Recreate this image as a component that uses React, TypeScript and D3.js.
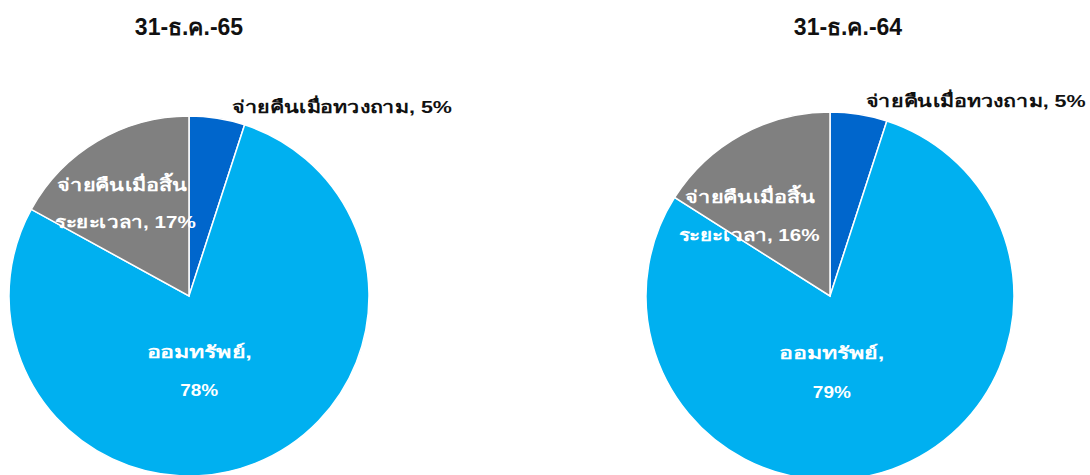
import * as d3 from "d3";
import { useEffect, useRef } from "react";

const categories = ["จ่ายคืนเมื่อทวงถาม", "ออมทรัพย์", "จ่ายคืนเมื่อสิ้นระยะเวลา"];
const titles = ["31-ธ.ค.-65", "31-ธ.ค.-64"];
const values65 = [5, 78, 17];
const values64 = [5, 79, 16];
const colors = ["#0066CC", "#00B0F0", "#808080"];

const width = 1090;
const height = 475;
const font = "Arial, 'Liberation Sans', Tahoma, sans-serif";

// label nudges per chart (excel "best fit" placement)
const layout65 = { cx: 189, cy: 296, r: 180, titleX: 189, outer: [12, 13], sav: [-13, 3, 41], term: [-10, -9, -7, 28] };
const layout64 = { cx: 830, cy: 296, r: 184, titleX: 848, outer: [4, 11], sav: [-20, 2, 41], term: [-25, 7, -26, 45] };

function drawPie(svg: any, values: number[], title: string, L: any) {
    const radius = L.r;
    const g = svg.append("g").attr("transform", "translate(" + L.cx + "," + L.cy + ")");
    const pie = d3.pie<number>().sort(null).value((d) => d);
    const arcs = pie(values);
    const arc = d3.arc<d3.PieArcDatum<number>>().innerRadius(0).outerRadius(radius);

    g.selectAll("path")
        .data(arcs)
        .enter()
        .append("path")
        .attr("d", arc)
        .attr("fill", (d: any, i: number) => colors[i])
        .attr("stroke", "#ffffff")
        .style("stroke-width", "1.5px");

    svg.append("text")
        .attr("x", L.titleX)
        .attr("y", 35)
        .attr("text-anchor", "middle")
        .style("font-family", font)
        .style("font-size", "23px")
        .style("font-weight", "bold")
        .attr("fill", "#111")
        .text(title);

    const label = (parent: any, x: number, y: number, txt: string, w: number, fill: string, anchor: string) =>
        parent.append("text")
            .attr("x", x)
            .attr("y", y)
            .attr("text-anchor", anchor)
            .attr("textLength", w)
            .attr("lengthAdjust", "spacingAndGlyphs")
            .style("font-family", font)
            .style("font-size", "17px")
            .style("font-weight", "bold")
            .attr("fill", fill)
            .text(txt);

    // outside label for the small slice
    const outer = d3.arc<d3.PieArcDatum<number>>().innerRadius(radius * 1.1).outerRadius(radius * 1.1);
    const [ox, oy] = outer.centroid(arcs[0]);
    label(g, ox + L.outer[0], oy + L.outer[1], categories[0] + ", " + values[0] + "%", 220, "#111", "start");

    // savings label, two lines
    const mid = d3.arc<d3.PieArcDatum<number>>().innerRadius(radius * 0.35).outerRadius(radius * 0.35);
    const [mx, my] = mid.centroid(arcs[1]);
    label(g, mx + L.sav[0], my + L.sav[1], categories[1] + ",", 105, "#fff", "middle");
    label(g, mx + L.sav[0], my + L.sav[2], values[1] + "%", 38, "#fff", "middle");

    // term deposit label, two lines
    const inner = d3.arc<d3.PieArcDatum<number>>().innerRadius(radius * 0.62).outerRadius(radius * 0.62);
    const [gx, gy] = inner.centroid(arcs[2]);
    label(g, gx + L.term[0], gy + L.term[1], "จ่ายคืนเมื่อสิ้น", 130, "#fff", "middle");
    label(g, gx + L.term[2], gy + L.term[3], "ระยะเวลา, " + values[2] + "%", 141, "#fff", "middle");
}

function charts(divRef: React.RefObject<HTMLDivElement>) {
    d3.select(divRef.current).selectAll("*").remove();
    const svg = d3.select(divRef.current)
        .append("svg")
        .attr("width", width)
        .attr("height", height)
        .style("display", "block")
        .style("background", "#fff");

    drawPie(svg, values65, titles[0], layout65);
    drawPie(svg, values64, titles[1], layout64);
}

export default function App() {
    const divRef = useRef<HTMLDivElement>(null);
    useEffect(() => {
        charts(divRef);
    }, [divRef]);

    return (
        <>
            <style>{"body{margin:0;background:#fff}"}</style>
            <div ref={divRef} />
        </>
    );
}
